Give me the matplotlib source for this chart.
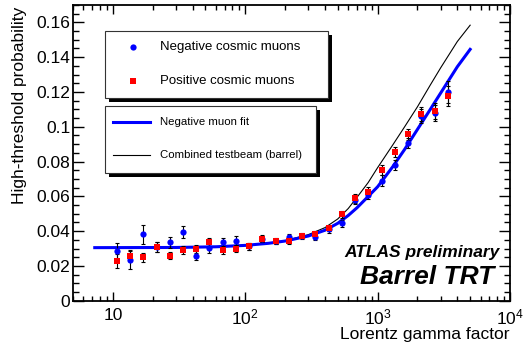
#!/usr/bin/env python3
import matplotlib
matplotlib.use("Agg")
import matplotlib.pyplot as plt
from matplotlib.patches import Rectangle
from matplotlib.lines import Line2D
from matplotlib.ticker import MultipleLocator, LogLocator, NullFormatter

plt.rcParams["font.family"] = ["Liberation Sans", "DejaVu Sans"]
plt.rcParams["mathtext.fontset"] = "custom"
plt.rcParams["mathtext.rm"] = "Liberation Sans"
plt.rcParams["mathtext.default"] = "regular"

# measured points (Lorentz gamma)
gamma = [10.7, 13.5, 17.0, 21.4, 26.9, 33.9, 42.7, 53.7, 67.6, 85.1, 107, 135, 170,
         214, 269, 339, 427, 537, 676, 851, 1072, 1349, 1698, 2138, 2692, 3388]
neg_prob = [0.0287, 0.0234, 0.0382, 0.0310, 0.0337, 0.0395, 0.0259, 0.0301, 0.0336,
            0.0345, 0.0312, 0.0355, 0.0343, 0.0367, 0.0370, 0.0365, 0.0410, 0.0445,
            0.0580, 0.0607, 0.0690, 0.0780, 0.0908, 0.1060, 0.1080, 0.1200]
neg_err = [0.0047, 0.0050, 0.0055, 0.0030, 0.0032, 0.0035, 0.0025, 0.0025, 0.0025,
           0.0025, 0.0020, 0.0020, 0.0018, 0.0015, 0.0015, 0.0015, 0.0018, 0.0020,
           0.0025, 0.0025, 0.0030, 0.0030, 0.0030, 0.0040, 0.0045, 0.0065]
pos_prob = [0.0230, 0.0259, 0.0249, 0.0309, 0.0259, 0.0292, 0.0296, 0.0338, 0.0290,
            0.0300, 0.0312, 0.0356, 0.0341, 0.0343, 0.0373, 0.0384, 0.0416, 0.0498,
            0.0589, 0.0627, 0.0752, 0.0854, 0.0956, 0.1071, 0.1090, 0.1177]
pos_err = [0.0040, 0.0030, 0.0025, 0.0030, 0.0020, 0.0022, 0.0022, 0.0022, 0.0022,
           0.0020, 0.0020, 0.0018, 0.0016, 0.0015, 0.0015, 0.0015, 0.0016, 0.0020,
           0.0025, 0.0025, 0.0030, 0.0030, 0.0030, 0.0040, 0.0045, 0.0060]

# curves
curve_gamma = [7.3, 30, 60, 100, 150, 200, 300, 400, 500, 600, 700, 850, 1000,
               1300, 1600, 2000, 2500, 3000, 4000, 5000]
fit_neg = [0.0305, 0.0306, 0.0310, 0.0318, 0.0330, 0.0343, 0.0372, 0.0405, 0.0445,
           0.0490, 0.0535, 0.0600, 0.0655, 0.0770, 0.0870, 0.0985, 0.1100, 0.1195,
           0.1345, 0.1445]
testbeam = [0.0305, 0.0306, 0.0310, 0.0318, 0.0330, 0.0345, 0.0380, 0.0420, 0.0470,
            0.0530, 0.0595, 0.0680, 0.0765, 0.0895, 0.1000, 0.1115, 0.1240, 0.1340,
            0.1490, 0.1584]

xticks = [10, 100, 1000, 10000]
xticklabels = ["10", "$10^{2}$", "$10^{3}$", "$10^{4}$"]
yticks = [0, 0.02, 0.04, 0.06, 0.08, 0.1, 0.12, 0.14, 0.16]
yticklabels = ["0", "0.02", "0.04", "0.06", "0.08", "0.1", "0.12", "0.14", "0.16"]

W, H = 523, 347
fig = plt.figure(figsize=(W / 100, H / 100), dpi=100)
ax = fig.add_axes([73 / W, 1 - 300.7 / H, (510 - 73) / W, (300.7 - 5) / H])


def px(x):
    return x / W


def py(y):
    return 1 - y / H


ax.plot(curve_gamma, testbeam, color="black", lw=0.8, zorder=2)
ax.plot(curve_gamma, fit_neg, color="#0000ff", lw=2.2, zorder=2)
ax.errorbar(gamma, neg_prob, yerr=neg_err, fmt="none", ecolor="black", elinewidth=0.8,
            capsize=1.6, capthick=0.8, zorder=3)
ax.errorbar(gamma, pos_prob, yerr=pos_err, fmt="none", ecolor="black", elinewidth=0.8,
            capsize=1.6, capthick=0.8, zorder=3)
ax.plot(gamma, neg_prob, "o", color="#0000ff", ms=4.5, mew=0, zorder=4)
ax.plot(gamma, pos_prob, "s", color="#ff0000", ms=4.5, mew=0, zorder=5)

ax.set_xscale("log")
ax.set_xlim(5, 10000)
ax.set_ylim(0, 0.17)
ax.set_xticks(xticks)
ax.set_xticklabels(xticklabels)
ax.xaxis.set_minor_locator(LogLocator(base=10, subs=range(2, 10)))
ax.xaxis.set_minor_formatter(NullFormatter())
ax.set_yticks(yticks)
ax.set_yticklabels(yticklabels)
ax.yaxis.set_minor_locator(MultipleLocator(0.005))

ax.tick_params(which="both", direction="in", top=True, right=True, width=1.0)
ax.tick_params(axis="x", which="major", length=6.5, pad=5, labelsize=12.5)
ax.tick_params(axis="x", which="minor", length=3.5)
ax.tick_params(axis="y", which="major", length=8, pad=2, labelsize=12.5)
ax.tick_params(axis="y", which="minor", length=4)
for s in ax.spines.values():
    s.set_linewidth(1.3)

fig.text(px(20), py(7), "High-threshold probability", rotation=90, ha="center",
         va="top", fontsize=12.5)
fig.text(px(510), py(335), "Lorentz gamma factor", ha="right", va="center",
         fontsize=12.5)

fig.text(px(500), py(253), "ATLAS preliminary", ha="right", va="center",
         fontsize=12.5, fontweight="bold", fontstyle="italic")
fig.text(px(494), py(277), "Barrel TRT", ha="right", va="center",
         fontsize=19, fontweight="bold", fontstyle="italic")


# legend boxes with ROOT-style black shadow
def box(x0, y0, x1, y1):
    fig.add_artist(Rectangle((px(x0 + 4), py(y1 + 4)), px(x1 - x0), (y1 - y0) / H,
                             transform=fig.transFigure, facecolor="black",
                             edgecolor="none", zorder=10))
    fig.add_artist(Rectangle((px(x0), py(y1)), px(x1 - x0), (y1 - y0) / H,
                             transform=fig.transFigure, facecolor="white",
                             edgecolor="#333333", lw=0.8, zorder=11))


box(105, 31, 328, 98)
box(105, 106, 316, 173)

fig.add_artist(Line2D([px(133)], [py(47)], marker="o", color="#0000ff", ms=4.5, mew=0,
                      transform=fig.transFigure, zorder=12))
fig.add_artist(Line2D([px(133)], [py(81)], marker="s", color="#ff0000", ms=4.5, mew=0,
                      transform=fig.transFigure, zorder=12))
fig.add_artist(Line2D([px(113), px(150)], [py(122), py(122)], color="#0000ff", lw=2.2,
                      transform=fig.transFigure, zorder=12))
fig.add_artist(Line2D([px(113), px(150)], [py(155), py(155)], color="black", lw=0.8,
                      transform=fig.transFigure, zorder=12))
fig.text(px(160), py(47), "Negative cosmic muons", va="center", fontsize=9.5, zorder=12)
fig.text(px(160), py(81), "Positive cosmic muons", va="center", fontsize=9.5, zorder=12)
fig.text(px(160), py(122), "Negative muon fit", va="center", fontsize=8.2, zorder=12)
fig.text(px(160), py(155), "Combined testbeam (barrel)", va="center", fontsize=8.2,
         zorder=12)

fig.savefig("out.png", dpi=100)
